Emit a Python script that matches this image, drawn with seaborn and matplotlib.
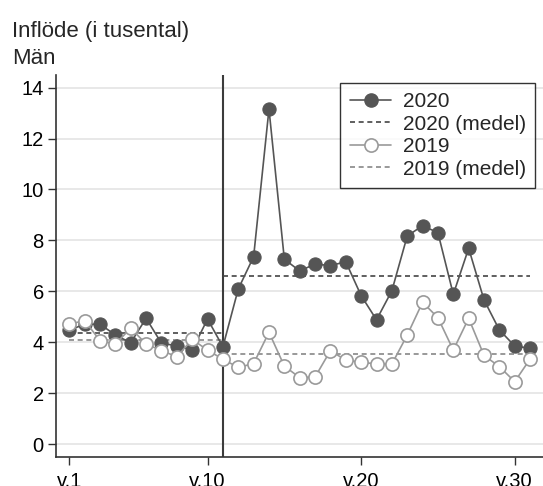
import matplotlib
matplotlib.use("Agg")
import matplotlib.pyplot as plt
import seaborn as sns
import pandas as pd
import numpy as np

weeks = list(range(1, 32))
v2020 = [4.48, 4.70, 4.71, 4.28, 3.98, 4.94, 3.96, 3.86, 3.69, 4.91,
         3.82, 6.09, 7.36, 13.16, 7.26, 6.80, 7.07, 7.01, 7.16, 5.83,
         4.88, 6.02, 8.17, 8.58, 8.30, 5.88, 7.69, 5.66, 4.48, 3.85, 3.76]
v2019 = [4.71, 4.85, 4.06, 3.93, 4.55, 3.93, 3.67, 3.43, 4.11, 3.69,
         3.33, 3.01, 3.16, 4.39, 3.06, 2.61, 2.63, 3.67, 3.29, 3.22,
         3.14, 3.14, 4.28, 5.57, 4.96, 3.69, 4.94, 3.48, 3.04, 2.45, 3.34]
break_week = 11
tick_weeks = [1, 10, 20, 30]
tick_labels = ["v.1", "v.10", "v.20", "v.30"]
yticks = [0, 2, 4, 6, 8, 10, 12, 14]
title_lines = ["Inflöde (i tusental)", "Män"]
legend_labels = ["2020", "2020 (medel)", "2019", "2019 (medel)"]

sns.set_theme(style="white")
plt.rcParams['font.family'] = ['Liberation Sans', 'DejaVu Sans']

df = pd.DataFrame({"week": weeks, "v2020": v2020, "v2019": v2019})
pre = df[df.week < break_week]
post = df[df.week >= break_week]

def mean_df(col):
    return (pd.DataFrame({"week": [1, break_week], "m": [pre[col].mean()] * 2}),
            pd.DataFrame({"week": [break_week, weeks[-1]], "m": [post[col].mean()] * 2}))

fig = plt.figure(figsize=(5.43, 4.86), dpi=100)
ax = fig.add_axes([56/543, 1 - 457.3/486, 1 - 56/543, (457.3 - 75)/486])

c20 = "#555555"
c19 = "#9a9a9a"
dash = (0, (3.0, 2.2))

ax.axvline(break_week, color="#3c3c3c", lw=1.5, zorder=1)

sns.lineplot(data=df, x="week", y="v2020", ax=ax, color=c20, lw=1.2,
             marker="o", markersize=9.5, markerfacecolor=c20, markeredgecolor=c20,
             markeredgewidth=0.8, zorder=3)
a, b = mean_df("v2020")
sns.lineplot(data=a, x="week", y="m", ax=ax, color="#444444", lw=1.2, linestyle=dash, zorder=2)
sns.lineplot(data=b, x="week", y="m", ax=ax, color="#444444", lw=1.2, linestyle=dash, zorder=2)
sns.lineplot(data=df, x="week", y="v2019", ax=ax, color=c19, lw=1.2,
             marker="o", markersize=9.5, markerfacecolor="white", markeredgecolor=c19,
             markeredgewidth=1.2, zorder=4)
a, b = mean_df("v2019")
sns.lineplot(data=a, x="week", y="m", ax=ax, color="#888888", lw=1.2, linestyle=dash, zorder=2)
sns.lineplot(data=b, x="week", y="m", ax=ax, color="#888888", lw=1.2, linestyle=dash, zorder=2)

ax.set_xlim(1 - 13.3/15.36, 1 + (543 - 69.3)/15.36)
ax.set_ylim(-13.3/25.45, (444 - 75)/25.45)
ax.set_yticks(yticks)
ax.set_yticklabels([str(t) for t in yticks])
ax.set_xticks(tick_weeks)
ax.set_xticklabels(tick_labels)
ax.set_xlabel("")
ax.set_ylabel("")
ax.yaxis.grid(True, color="#e6e6e6", lw=1.3)
ax.set_axisbelow(True)
for s in ["top", "right"]:
    ax.spines[s].set_visible(False)
for s in ["left", "bottom"]:
    ax.spines[s].set_color("#333333")
    ax.spines[s].set_linewidth(1.2)
ax.tick_params(axis="both", which="both", direction="out", length=5.8, width=1.0,
               color="#333333", labelsize=14.5, labelcolor="black",
               left=True, bottom=True)
ax.tick_params(axis="y", pad=3)
ax.tick_params(axis="x", pad=5)

from matplotlib.lines import Line2D
handles = [
    Line2D([], [], color=c20, lw=1.2, marker="o", markersize=9.5, markerfacecolor=c20, markeredgecolor=c20),
    Line2D([], [], color="#444444", lw=1.2, linestyle=dash),
    Line2D([], [], color=c19, lw=1.2, marker="o", markersize=9.5, markerfacecolor="white", markeredgecolor=c19, markeredgewidth=1.2),
    Line2D([], [], color="#888888", lw=1.2, linestyle=dash),
]
leg = ax.legend(handles, legend_labels, loc="upper right",
                bbox_to_anchor=((535.3 - 56) / (543 - 56), (457.3 - 82.7) / (457.3 - 75)),
                frameon=True, fancybox=False, fontsize=15, handlelength=2.0,
                handletextpad=0.55, labelspacing=0.17, borderpad=0.45, borderaxespad=0)
leg.get_frame().set_edgecolor("black")
leg.get_frame().set_linewidth(1.0)

fig.text(12/543, 1 - 36.7/486, title_lines[0], fontsize=16, ha="left", va="baseline")
fig.text(12/543, 1 - 64.3/486, title_lines[1], fontsize=16, ha="left", va="baseline")

fig.savefig("out.png", dpi=100)
